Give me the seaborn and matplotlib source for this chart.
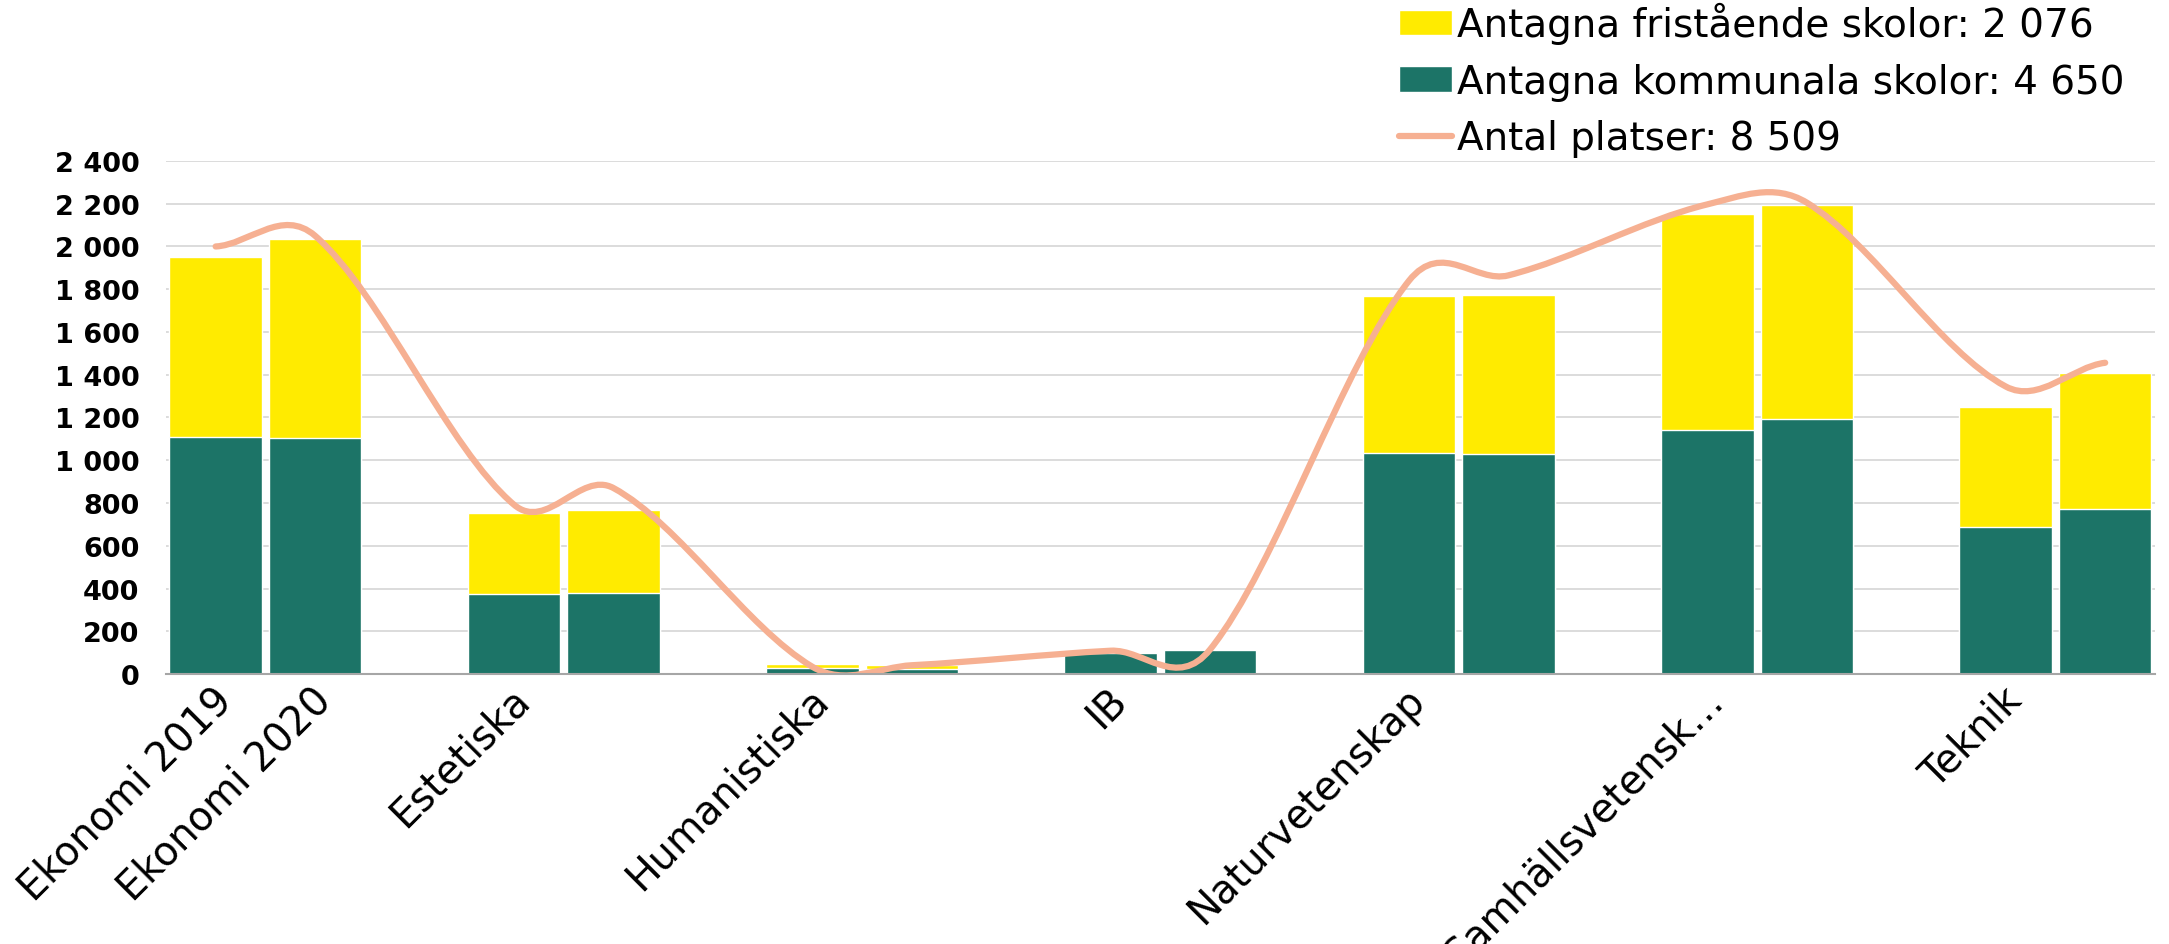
import numpy as np
import pandas as pd
import matplotlib
matplotlib.use("Agg")
import matplotlib.pyplot as plt
import seaborn as sns
from matplotlib.path import Path
from matplotlib.patches import PathPatch, Patch
from matplotlib.lines import Line2D

# data (two bars per programme: 2019, 2020)
tick_labels = ["Ekonomi 2019", "Ekonomi 2020", "Estetiska", "", "Humanistiska", "",
               "IB", "", "Naturvetenskap", "", "Samhällsvetensk…", "", "Teknik", ""]
kommunala = [1111, 1106, 372, 378, 27, 25, 100, 114, 1033, 1030, 1142, 1195, 686, 772]
fristaende = [839, 928, 383, 389, 20, 16, 0, 0, 737, 742, 1009, 997, 565, 637]
platser = [2000, 2050, 792, 870, 34, 41, 109, 115, 1840, 1865, 2197, 2205, 1345, 1456]

legend_labels = ["Antagna fristående skolor: 2 076",
                 "Antagna kommunala skolor: 4 650",
                 "Antal platser: 8 509"]

YELLOW = "#FFEB00"
GREEN = "#1C7467"
SALMON = "#F6B092"

# each programme takes three slots: two bars and one empty slot
pos = [3 * (i // 2) + (i % 2) for i in range(len(kommunala))]
df = pd.DataFrame({"pos": pos,
                   "kommunala": kommunala,
                   "total": np.array(kommunala) + np.array(fristaende),
                   "platser": platser})

sns.set_style("white")
plt.rcParams["font.family"] = ["DejaVu Sans"]
plt.rcParams["text.color"] = "black"
plt.rcParams["xtick.color"] = "black"
plt.rcParams["ytick.color"] = "black"

fig = plt.figure(figsize=(21.69, 9.45), dpi=100)
ax = fig.add_axes([0.0765, 0.2857, 0.9170, 0.5429])

sns.barplot(data=df, x="pos", y="total", native_scale=True, color=YELLOW,
            saturation=1, width=0.93, ax=ax, zorder=2)
sns.barplot(data=df, x="pos", y="kommunala", native_scale=True, color=GREEN,
            saturation=1, width=0.93, ax=ax, zorder=3)

# smoothed line: cubic bezier segments with catmull-rom style tangents
xs = df["pos"].to_numpy(float)
ys = df["platser"].to_numpy(float)
n = len(xs)
slopes = np.empty(n)
for i in range(n):
    if i == 0:
        slopes[i] = 0.5 * (ys[1] - ys[0]) / (xs[1] - xs[0])
    elif i == n - 1:
        slopes[i] = 0.5 * (ys[-1] - ys[-2]) / (xs[-1] - xs[-2])
    else:
        slopes[i] = (ys[i + 1] - ys[i - 1]) / (xs[i + 1] - xs[i - 1])
verts = [(xs[0], ys[0])]
codes = [Path.MOVETO]
for i in range(n - 1):
    h = xs[i + 1] - xs[i]
    verts += [(xs[i] + h / 3, ys[i] + slopes[i] * h / 3),
              (xs[i + 1] - h / 3, ys[i + 1] - slopes[i + 1] * h / 3),
              (xs[i + 1], ys[i + 1])]
    codes += [Path.CURVE4] * 3
ax.add_patch(PathPatch(Path(verts, codes), facecolor="none", edgecolor=SALMON,
                       lw=4.5, capstyle="round", zorder=4))

ax.set_xlim(-0.5, 19.5)
ax.set_ylim(0, 2400)
ax.set_yticks(np.arange(0, 2401, 200))
ax.set_yticklabels([f"{v:,}".replace(",", " ") for v in range(0, 2401, 200)],
                   fontsize=19.5, fontweight="bold")
ax.yaxis.grid(True, color="#DCDCDC", lw=1.4, zorder=0)
ax.set_axisbelow(True)
ax.tick_params(axis="y", length=0, pad=19)

# labels sit a little right of the bar centre, like in Excel
ax.set_xticks(np.array(pos) + 0.1)
ax.set_xticklabels(tick_labels, rotation=45, ha="right", va="center",
                   rotation_mode="anchor", fontsize=28.5)
ax.set_xticks(np.arange(-0.5, 19.6, 2), minor=True)
ax.tick_params(axis="x", which="major", length=0, pad=14)
ax.tick_params(axis="x", which="minor", length=12, width=1.2, color="#A6A6A6")
ax.set_xlabel("")
ax.set_ylabel("")

for s in ["left", "right", "top"]:
    ax.spines[s].set_visible(False)
ax.spines["bottom"].set_color("#A6A6A6")
ax.spines["bottom"].set_linewidth(1.5)
ax.spines["bottom"].set_zorder(5)

handles = [Patch(facecolor=YELLOW), Patch(facecolor=GREEN),
           Line2D([0], [0], color=SALMON, lw=4.5)]
fig.legend(handles, legend_labels, loc="upper left",
           bbox_to_anchor=(1399 / 2169, 0.997), frameon=False,
           prop={"size": 28},
           handlelength=1.36, handleheight=0.62, handletextpad=0.13,
           labelspacing=0.48, borderpad=0.0, borderaxespad=0.0)

fig.savefig("out.png", dpi=100)
